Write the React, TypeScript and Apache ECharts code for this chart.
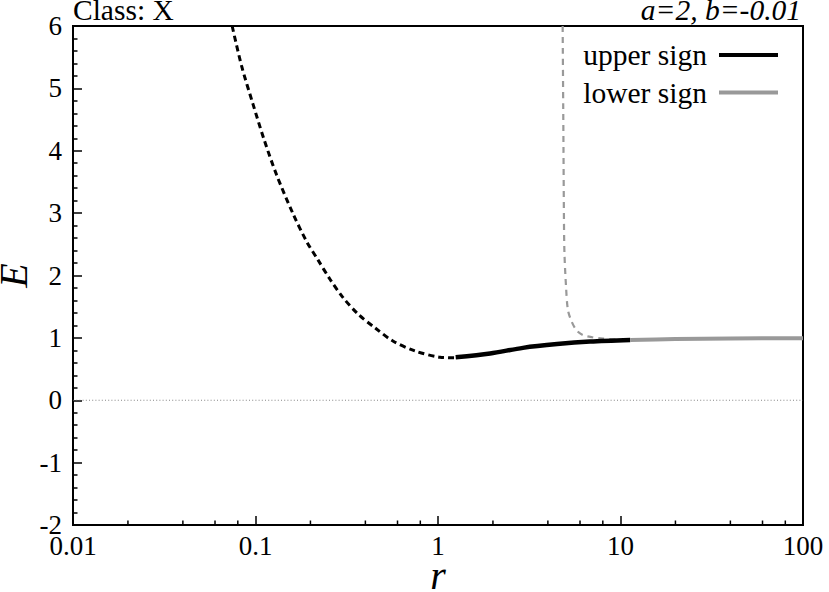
import React, { useEffect, useRef } from "react";
import * as echarts from "echarts";

const FONT = "Liberation Serif";

// r, E
const upperDashed: [number, number][] = [
  [0.0745, 6.0], [0.0839, 5.36], [0.0966, 4.76], [0.1114, 4.18], [0.1306, 3.61],
  [0.16, 3.0], [0.191, 2.54], [0.22, 2.25], [0.256, 1.94], [0.301, 1.65],
  [0.365, 1.38], [0.452, 1.16], [0.566, 0.95], [0.748, 0.79], [1.026, 0.69], [1.25, 0.68],
];
const upperSolid: [number, number][] = [
  [1.25, 0.69], [1.93, 0.75], [2.92, 0.84], [4.49, 0.9], [6.81, 0.94], [11.3, 0.965],
];
const lowerDashed: [number, number][] = [
  [4.82, 6.0], [4.86, 4.49], [4.9, 2.89], [4.93, 2.36], [5.03, 1.82], [5.15, 1.45],
  [5.4, 1.26], [5.75, 1.12], [6.23, 1.045], [6.98, 1.01], [8.02, 0.99], [9.93, 0.97],
];
const lowerSolid: [number, number][] = [
  [11.3, 0.965], [20, 0.98], [40, 0.99], [100, 0.995],
];
const zeroLine: [number, number][] = [[0.01, 0], [100, 0]];
const minorX: number[] = [0.02, 0.04, 0.06, 0.08, 0.2, 0.4, 0.6, 0.8, 2, 4, 6, 8, 20, 40, 60, 80];
const xRange = [0.01, 100];
const yRange = [-2, 6];

export default function App() {
  const ref = useRef<HTMLDivElement>(null);
  useEffect(() => {
    document.body.style.margin = "0";
    if (!ref.current) return;
    const chart = echarts.init(ref.current, null, { renderer: "svg" });
    const txt = { fontFamily: FONT, color: "#000", fontSize: 27 };
    chart.setOption({
      animation: false,
      backgroundColor: "#fff",
      title: [
        {
          text: "Class: X", left: 73, top: 0, padding: 0,
          textStyle: { fontFamily: FONT, color: "#000", fontSize: 29.5, fontWeight: "normal", lineHeight: 20 },
        },
        {
          text: "a=2, b=-0.01", right: 28, top: 0, padding: 0,
          textStyle: { fontFamily: FONT, color: "#000", fontSize: 29.5, fontWeight: "normal", fontStyle: "italic", lineHeight: 20 },
        },
      ],
      legend: {
        data: ["upper sign", "lower sign"],
        orient: "vertical",
        align: "right",
        right: 51,
        top: 40,
        padding: 0,
        icon: "rect",
        itemWidth: 59,
        itemHeight: 4,
        itemGap: 7.5,
        textStyle: { fontFamily: FONT, color: "#000", fontSize: 29.5, lineHeight: 28, padding: [0, 7, 0, 0] },
      },
      grid: {
        left: 73, right: 26, top: 26, bottom: 67,
        outerBoundsMode: "none",
        containLabel: false,
        show: true, borderColor: "#000", borderWidth: 2, backgroundColor: "transparent",
      },
      xAxis: {
        type: "log",
        logBase: 10,
        min: xRange[0],
        max: xRange[1],
        name: "r",
        nameLocation: "middle",
        nameGap: 38.5,
        nameMoveOverlap: false,
        nameTextStyle: { fontFamily: FONT, fontSize: 40, fontStyle: "italic", color: "#000", lineHeight: 24 },
        axisLine: { show: true, onZero: false, lineStyle: { color: "#000", width: 2 } },
        axisTick: { show: true, inside: true, length: 9, lineStyle: { color: "#000", width: 1.5 } },
        axisLabel: { ...txt, margin: 7 },
        splitLine: { show: false },
      },
      yAxis: {
        type: "value",
        min: yRange[0],
        max: yRange[1],
        interval: 1,
        name: "E",
        nameLocation: "middle",
        nameGap: 47.5,
        nameMoveOverlap: false,
        nameTextStyle: { fontFamily: FONT, fontSize: 40, fontStyle: "italic", color: "#000", lineHeight: 24 },
        axisLine: { show: true, onZero: false, lineStyle: { color: "#000", width: 2 } },
        axisTick: { show: true, inside: true, length: 9, lineStyle: { color: "#000", width: 1.5 } },
        minorTick: { show: true, splitNumber: 5, length: 4.5, lineStyle: { color: "#000", width: 1.5 } },
        axisLabel: { ...txt, margin: 11 },
        splitLine: { show: false },
      },
      series: [
        {
          name: "zero",
          type: "line",
          data: zeroLine,
          symbol: "none",
          silent: true,
          lineStyle: { color: "#666", width: 0.8, type: [1, 2.2] },
        },
        {
          name: "upper dashed",
          type: "line",
          data: upperDashed,
          symbol: "none",
          smooth: 0.3,
          color: "#000",
          lineStyle: { color: "#000", width: 3, type: [6, 4] },
        },
        {
          name: "lower dashed",
          type: "line",
          data: lowerDashed,
          symbol: "none",
          smooth: 0.3,
          color: "#999",
          lineStyle: { color: "#999", width: 2.2, type: [6, 5] },
        },
        {
          name: "upper sign",
          type: "line",
          data: upperSolid,
          symbol: "none",
          smooth: 0.3,
          color: "#000",
          itemStyle: { color: "#000" },
          lineStyle: { color: "#000", width: 4.5 },
        },
        {
          name: "lower sign",
          type: "line",
          data: lowerSolid,
          symbol: "none",
          smooth: 0.3,
          color: "#999",
          itemStyle: { color: "#999" },
          lineStyle: { color: "#999", width: 4 },
        },
        {
          name: "minor x ticks",
          type: "custom",
          silent: true,
          clip: false,
          data: minorX.map((v) => [v, yRange[0]]),
          renderItem: (params: any, api: any) => {
            const p = api.coord([api.value(0), api.value(1)]);
            return {
              type: "line",
              shape: { x1: p[0], y1: p[1], x2: p[0], y2: p[1] - 4.5 },
              style: { stroke: "#000", lineWidth: 1.5 },
            };
          },
        },
      ],
    });
    return () => chart.dispose();
  }, []);
  return <div ref={ref} style={{ width: 829, height: 592 }} />;
}
